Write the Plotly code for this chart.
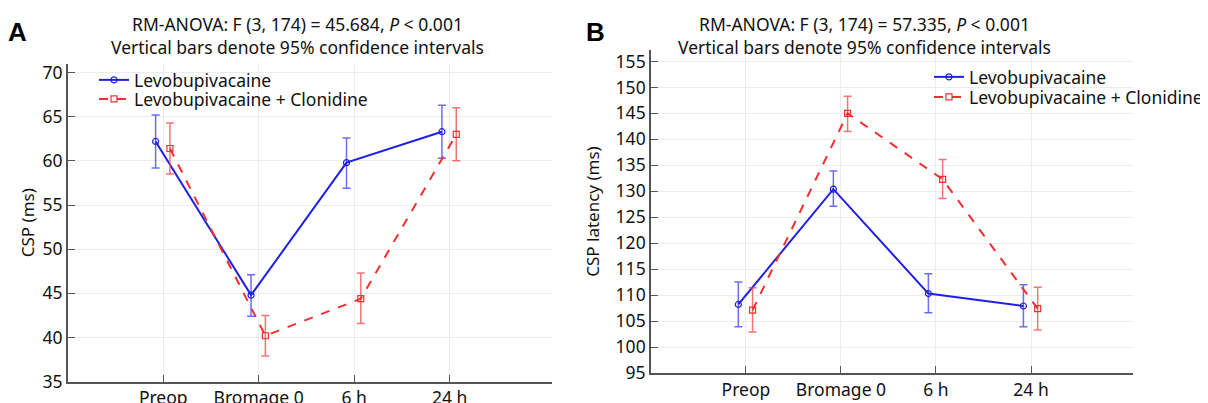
import plotly.graph_objects as go
from plotly.subplots import make_subplots

# time points
timepoints = ["Preop", "Bromage 0", "6 h", "24 h"]
names = ["Levobupivacaine", "Levobupivacaine + Clonidine"]

# panel A: CSP (ms), mean with 95% CI
a_levo = [62.2, 44.8, 59.8, 63.3]
a_levo_hi = [65.2, 47.1, 62.6, 66.3]
a_levo_lo = [59.2, 42.4, 56.9, 60.3]
a_clon = [61.4, 40.2, 44.4, 63.0]
a_clon_hi = [64.3, 42.5, 47.3, 66.0]
a_clon_lo = [58.5, 37.9, 41.6, 60.0]

# panel B: CSP latency (ms)
b_levo = [108.2, 130.4, 110.3, 107.9]
b_levo_hi = [112.5, 133.9, 114.1, 112.0]
b_levo_lo = [103.9, 127.1, 106.6, 103.9]
b_clon = [107.1, 145.0, 132.3, 107.4]
b_clon_hi = [111.4, 148.3, 136.1, 111.5]
b_clon_lo = [102.9, 141.5, 128.6, 103.3]

titles = ["RM-ANOVA: F (3, 174) = 45.684, <i>P</i> < 0.001<br>Vertical bars denote 95% confidence intervals",
          "RM-ANOVA: F (3, 174) = 57.335, <i>P</i> < 0.001<br>Vertical bars denote 95% confidence intervals"]

FONT = "Noto Sans"
BLUE = "#1f1fe6"
RED = "#f03030"
FS = 17.5

# page body has an 8px margin, so work in screen pixels and shift
W, H, OFF = 1200, 395, 8


def px(x):
    return (x - OFF) / W


def py(y):
    return 1 - (y - OFF) / H


fig = make_subplots(rows=1, cols=2)

idx = list(range(len(timepoints)))


def add_pair(col, m1, hi1, lo1, m2, hi2, lo2):
    leg1, leg2 = ("legend", "legend2") if col == 1 else ("legend3", "legend4")
    fig.add_trace(go.Scatter(
        x=[i - 0.08 for i in idx], y=m1, name=names[0], mode="lines+markers",
        line=dict(color=BLUE, width=2),
        marker=dict(symbol="circle-open", size=6, color=BLUE, line=dict(width=1.2)),
        error_y=dict(type="data", symmetric=False,
                     array=[h - m for h, m in zip(hi1, m1)],
                     arrayminus=[m - l for m, l in zip(m1, lo1)],
                     color="rgba(60,60,240,0.75)", thickness=1.5, width=4),
        legend=leg1, showlegend=True), row=1, col=col)
    fig.add_trace(go.Scatter(
        x=[i + 0.07 for i in idx], y=m2, name=names[1], mode="lines+markers",
        line=dict(color=RED, width=2, dash="dash"),
        marker=dict(symbol="square-open", size=6, color=RED, line=dict(width=1.2)),
        error_y=dict(type="data", symmetric=False,
                     array=[h - m for h, m in zip(hi2, m2)],
                     arrayminus=[m - l for m, l in zip(m2, lo2)],
                     color="rgba(240,70,70,0.75)", thickness=1.5, width=4),
        legend=leg2, showlegend=True), row=1, col=col)


add_pair(1, a_levo, a_levo_hi, a_levo_lo, a_clon, a_clon_hi, a_clon_lo)
add_pair(2, b_levo, b_levo_hi, b_levo_lo, b_clon, b_clon_hi, b_clon_lo)

axis_common = dict(showline=True, linecolor="#555555", linewidth=1.5, automargin=False,
                   ticks="inside", ticklen=7, tickcolor="#555555",
                   showgrid=True, gridcolor="#ececec", gridwidth=1, zeroline=False,
                   tickfont=dict(family=FONT, size=FS, color="#111111"))

fig.update_xaxes(axis_common, tickvals=idx, ticktext=timepoints, range=[-1, 4.07])
fig.update_xaxes(domain=[px(67.8), px(551.7)], row=1, col=1)
fig.update_xaxes(domain=[px(650.9), px(1132.7)], row=1, col=2)

fig.update_yaxes(axis_common)
fig.update_yaxes(domain=[py(381.7), py(63.7)], range=[35, 71], dtick=5,
                 title=dict(text="CSP (ms)", font=dict(family=FONT, size=17, color="#111111"), standoff=4),
                 row=1, col=1)
fig.update_yaxes(domain=[py(373), py(50)], range=[95, 157.2], dtick=5,
                 title=dict(text="CSP latency (ms)", font=dict(family=FONT, size=17, color="#111111"), standoff=12),
                 row=1, col=2)

leg_common = dict(font=dict(family=FONT, size=FS, color="#111111"), bgcolor="rgba(0,0,0,0)",
                  xanchor="left", yanchor="top", tracegroupgap=0, itemwidth=30)

fig.update_layout(
    width=W, height=H,
    margin=dict(l=0, r=0, t=0, b=0),
    plot_bgcolor="white", paper_bgcolor="white",
    font=dict(family=FONT, color="#111111"),
    showlegend=True,
    legend=dict(leg_common, x=px(94), y=py(62)),
    legend2=dict(leg_common, x=px(94), y=py(81)),
    legend3=dict(leg_common, x=px(929), y=py(59)),
    legend4=dict(leg_common, x=px(929), y=py(79)),
    annotations=[
        dict(text=titles[0], x=px(297), y=py(10), xref="paper", yref="paper",
             xanchor="center", yanchor="top", showarrow=False,
             font=dict(family=FONT, size=FS, color="#111111")),
        dict(text=titles[1], x=px(864), y=py(10), xref="paper", yref="paper",
             xanchor="center", yanchor="top", showarrow=False,
             font=dict(family=FONT, size=FS, color="#111111")),
        dict(text="<b>A</b>", x=px(6), y=py(15), xref="paper", yref="paper",
             xanchor="left", yanchor="top", showarrow=False,
             font=dict(family="Liberation Sans", size=26, color="#000000")),
        dict(text="<b>B</b>", x=px(584), y=py(15), xref="paper", yref="paper",
             xanchor="left", yanchor="top", showarrow=False,
             font=dict(family="Liberation Sans", size=26, color="#000000")),
    ],
)

fig.write_html("out.html")
